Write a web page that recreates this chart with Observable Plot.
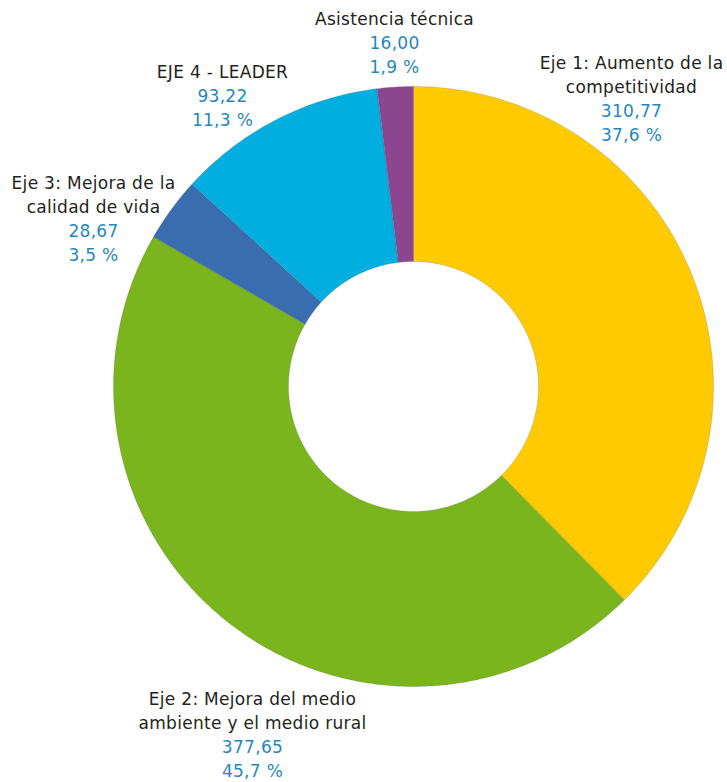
<!DOCTYPE html>
<html>
<head>
<meta charset="utf-8">
<script src="https://cdn.jsdelivr.net/npm/d3@7"></script>
<script src="https://cdn.jsdelivr.net/npm/@observablehq/plot@0.6"></script>
<style>
  html, body { margin: 0; padding: 0; background: #fff; }
  #chart svg { display: block; }
</style>
</head>
<body>
<div id="chart"></div>
<script>
// ---- data ----
const names = [
  "Eje 1: Aumento de la competitividad",
  "Eje 2: Mejora del medio ambiente y el medio rural",
  "Eje 3: Mejora de la calidad de vida",
  "EJE 4 - LEADER",
  "Asistencia técnica"
];
const titleLines = [
  ["Eje 1: Aumento de la", "competitividad"],
  ["Eje 2: Mejora del medio", "ambiente y el medio rural"],
  ["Eje 3: Mejora de la", "calidad de vida"],
  ["EJE 4 - LEADER"],
  ["Asistencia técnica"]
];
const values = [310.77, 377.65, 28.67, 93.22, 16.00];
const percents = [37.6, 45.7, 3.5, 11.3, 1.9];

// ---- styles / layout (not data) ----
const colors = ["#FFCB00", "#7AB51D", "#3A6CB0", "#00AEE0", "#8B468F"];
const labelAnchors = [
  {x: 631, y: 68},
  {x: 252, y: 704},
  {x: 93, y: 188},
  {x: 222, y: 77},
  {x: 394, y: 24}
];
const W = 727, H = 782;
const cx = 413, cy = 386, rOuter = 300, rInner = 125;
const lineH = 24;

// ---- geometry built from values ----
const pie = d3.pie().sort(null).value(d => d)(values);
const pts = [];
pie.forEach((p, i) => {
  const a0 = p.startAngle, a1 = p.endAngle;
  const n = Math.max(4, Math.ceil((a1 - a0) / 0.01));
  for (let k = 0; k <= n; k++) {
    const a = a0 + (a1 - a0) * k / n;
    pts.push({name: names[i], x: cx + rOuter * Math.sin(a), y: cy - rOuter * Math.cos(a)});
  }
  for (let k = n; k >= 0; k--) {
    const a = a0 + (a1 - a0) * k / n;
    pts.push({name: names[i], x: cx + rInner * Math.sin(a), y: cy - rInner * Math.cos(a)});
  }
});

const fmt2 = v => v.toFixed(2).replace(".", ",");
const fmt1 = v => v.toFixed(1).replace(".", ",") + " %";

const titleRows = [], valueRows = [];
names.forEach((nm, i) => {
  const a = labelAnchors[i];
  const tl = titleLines[i];
  tl.forEach((t, j) => titleRows.push({text: t, x: a.x, y: a.y + j * lineH}));
  valueRows.push({text: fmt2(values[i]), x: a.x, y: a.y + tl.length * lineH});
  valueRows.push({text: fmt1(percents[i]), x: a.x, y: a.y + (tl.length + 1) * lineH});
});

const chart = Plot.plot({
  width: W,
  height: H,
  margin: 0,
  x: {domain: [0, W], range: [0, W], axis: null},
  y: {domain: [0, H], range: [0, H], axis: null},
  color: {domain: names, range: colors},
  style: {fontFamily: "DejaVu Sans", letterSpacing: "0.3px", background: "#fff"},
  marks: [
    Plot.line(pts, {
      x: "x", y: "y", z: "name", fill: "name",
      stroke: "#555", strokeOpacity: 0.35, strokeWidth: 0.6,
      curve: "linear-closed"
    }),
    Plot.text(titleRows, {
      x: "x", y: "y", text: "text", lineAnchor: "bottom",
      fontSize: 17, fill: "#231f20"
    }),
    Plot.text(valueRows, {
      x: "x", y: "y", text: "text", lineAnchor: "bottom",
      fontSize: 17, fill: "#1f88bf"
    })
  ]
});
document.getElementById("chart").appendChild(chart);
</script>
</body>
</html>
